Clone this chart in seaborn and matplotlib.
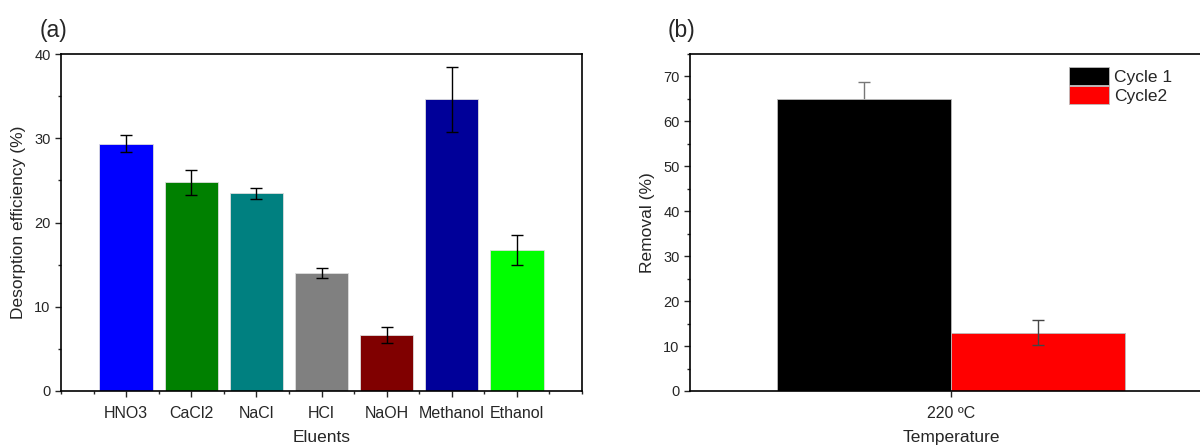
import matplotlib
matplotlib.use("Agg")
import matplotlib.pyplot as plt
import seaborn as sns
import pandas as pd
import numpy as np
from matplotlib.ticker import MultipleLocator, FixedLocator

# ---- data ----
eluents = ["HNO3", "CaCl2", "NaCl", "HCl", "NaOH", "Methanol", "Ethanol"]
desorption = [29.35, 24.75, 23.45, 14.0, 6.65, 34.6, 16.75]
desorption_err = [1.0, 1.43, 0.64, 0.55, 1.0, 3.85, 1.8]
eluent_colors = ["#0000FF", "#008000", "#008080", "#808080", "#800000", "#000099", "#00FF00"]

temperature = ["220 \u00baC"]
cycles = ["Cycle 1", "Cycle2"]
removal = [65.0, 13.0]
removal_err = [3.7, 2.8]
cycle_colors = ["#000000", "#FF0000"]

sns.set_theme(style="ticks")
plt.rcParams["font.family"] = ["Liberation Sans", "DejaVu Sans"]
plt.rcParams["axes.linewidth"] = 1.2

fig = plt.figure(figsize=(12, 4.46), dpi=100)
ax1 = fig.add_axes([61/1200, 1-391/446, (582-61)/1200, (391-54)/446])
ax2 = fig.add_axes([690/1200, 1-391/446, (1212-690)/1200, (391-54)/446])

# ---- panel (a) ----
dfa = pd.DataFrame({"Eluents": eluents, "Desorption": desorption})
sns.barplot(data=dfa, x="Eluents", y="Desorption", hue="Eluents",
            palette=eluent_colors, width=0.82, legend=False, ax=ax1,
            edgecolor="#dddddd", linewidth=0.6, saturation=1)
ax1.errorbar(range(len(eluents)), desorption, yerr=desorption_err, fmt="none",
             ecolor="black", elinewidth=1, capsize=4, capthick=1)
ax1.set_xlim(-1, 7)
ax1.set_ylim(0, 40)
ax1.yaxis.set_major_locator(MultipleLocator(10))
ax1.yaxis.set_minor_locator(MultipleLocator(5))
ax1.xaxis.set_minor_locator(FixedLocator(np.arange(-1, 7.01, 0.5)))
ax1.set_xlabel("Eluents", fontsize=12.5, labelpad=6)
ax1.set_ylabel("Desorption efficiency (%)", fontsize=12.5, labelpad=6)
ax1.tick_params(axis="both", which="major", length=4, width=1, labelsize=10.5, direction="out")
ax1.tick_params(axis="x", which="major", labelsize=11.5, pad=7)
ax1.tick_params(axis="both", which="minor", length=2.5, width=1, direction="out")
for s in ax1.spines.values():
    s.set_visible(True)
    s.set_color("black")
fig.text(40/1200, 1-30/446, "(a)", fontsize=16.5, va="center", ha="left")

# ---- panel (b) ----
dfb = pd.DataFrame({"Temperature": temperature * len(cycles), "Cycle": cycles, "Removal": removal})
sns.barplot(data=dfb, x="Temperature", y="Removal", hue="Cycle",
            palette=cycle_colors, width=0.8, ax=ax2,
            edgecolor="#bbbbbb", linewidth=0.6, saturation=1)
bars = [p for p in ax2.patches if p.get_height() > 0][:len(cycles)]
xs = [b.get_x() + b.get_width() / 2 for b in bars]
err_z = [0.5, 3]
err_c = ["#777777", "#444444"]
for xi, yi, ei, zi, ci in zip(xs, removal, removal_err, err_z, err_c):
    ax2.errorbar([xi], [yi], yerr=[ei], fmt="none", ecolor=ci,
                 elinewidth=1, capsize=4, capthick=1, zorder=zi)
ax2.set_xlim(-0.6, 0.6)
ax2.set_ylim(0, 75)
ax2.yaxis.set_major_locator(MultipleLocator(10))
ax2.yaxis.set_minor_locator(MultipleLocator(5))
ax2.set_xlabel("Temperature", fontsize=12.5, labelpad=6)
ax2.set_ylabel("Removal (%)", fontsize=12.5, labelpad=6)
ax2.tick_params(axis="both", which="major", length=4, width=1, labelsize=10.5, direction="out")
ax2.tick_params(axis="x", which="major", labelsize=11.5, pad=7)
ax2.tick_params(axis="y", which="minor", length=2.5, width=1, direction="out")
for s in ax2.spines.values():
    s.set_visible(True)
    s.set_color("black")
leg = ax2.legend(loc="upper left", bbox_to_anchor=(1069/1200, 1-67/446),
                 bbox_transform=fig.transFigure, frameon=False, fontsize=12.5,
                 handlelength=2.3, handleheight=1.2, labelspacing=0.08,
                 handletextpad=0.3, borderaxespad=0, borderpad=0)
fig.text(668/1200, 1-30/446, "(b)", fontsize=16.5, va="center", ha="left")

fig.savefig("out.png", dpi=100)
